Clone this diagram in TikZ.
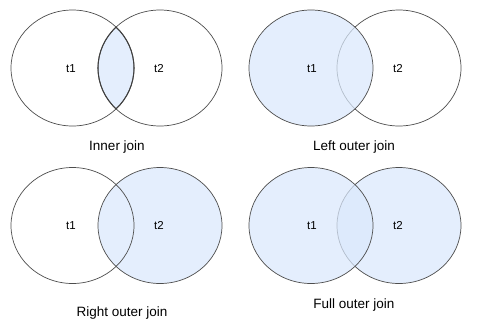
\documentclass[tikz,border=0pt]{standalone}
\usepackage{fontspec}
\setmainfont{Liberation Sans}
\definecolor{fillblue}{HTML}{DAE8FC}
\definecolor{edge}{HTML}{4D4D4D}
\begin{document}
\begin{tikzpicture}[x=1pt,y=-1pt,
  setline/.style={draw=edge, line width=0.7pt},
  setfill/.style={fill=fillblue, fill opacity=0.72},
  lbl/.style={font=\fontsize{11.5}{13}\selectfont, inner sep=0pt},
  captext/.style={font=\fontsize{13.5}{16}\selectfont, inner sep=0pt}]
\useasboundingbox (0,0) rectangle (482,330);
% ---------- Inner join ----------
\begin{scope}
  \clip (72.5,68) ellipse [x radius=61.5, y radius=58];
  \fill[setfill] (160,68) ellipse [x radius=62, y radius=58];
\end{scope}
\draw[setline] (72.5,68) ellipse [x radius=61.5, y radius=58];
\draw[setline] (160,68) ellipse [x radius=62, y radius=58];
\begin{scope}
  \clip (72.5,68) ellipse [x radius=61.5, y radius=58];
  \draw[draw=black!75, line width=1.05pt] (160,68) ellipse [x radius=62, y radius=58];
\end{scope}
\begin{scope}
  \clip (160,68) ellipse [x radius=62, y radius=58];
  \draw[draw=black!75, line width=1.05pt] (72.5,68) ellipse [x radius=61.5, y radius=58];
\end{scope}
\node[lbl] (a1) at (71,69) {t1};
\node[lbl] (a2) at (159,69) {t2};
\node[captext] (ca) at (117,147) {Inner join};
% ---------- Left outer join ----------
\draw[setline] (399,68) ellipse [x radius=62, y radius=58];
\fill[setfill] (311,68) ellipse [x radius=62, y radius=58];
\draw[setline] (311,68) ellipse [x radius=62, y radius=58];
\node[lbl] (b1) at (312,69) {t1};
\node[lbl] (b2) at (398,69) {t2};
\node[captext] (cb) at (354,147) {Left outer join};
% ---------- Right outer join ----------
\fill[setfill] (160,225.5) ellipse [x radius=62, y radius=58];
\draw[setline] (160,225.5) ellipse [x radius=62, y radius=58];
\draw[setline] (72.5,225.5) ellipse [x radius=61.5, y radius=58];
\node[lbl] (c1) at (71,226) {t1};
\node[lbl] (c2) at (159,226) {t2};
\node[captext] (cc) at (122,313) {Right outer join};
% ---------- Full outer join ----------
\fill[setfill] (399,225.5) ellipse [x radius=62, y radius=58];
\draw[setline] (399,225.5) ellipse [x radius=62, y radius=58];
\fill[setfill] (311,225.5) ellipse [x radius=62, y radius=58];
\draw[setline] (311,225.5) ellipse [x radius=62, y radius=58];
\node[lbl] (d1) at (312,226) {t1};
\node[lbl] (d2) at (398,226) {t2};
\node[captext] (cd) at (354,305) {Full outer join};
\end{tikzpicture}
\end{document}
